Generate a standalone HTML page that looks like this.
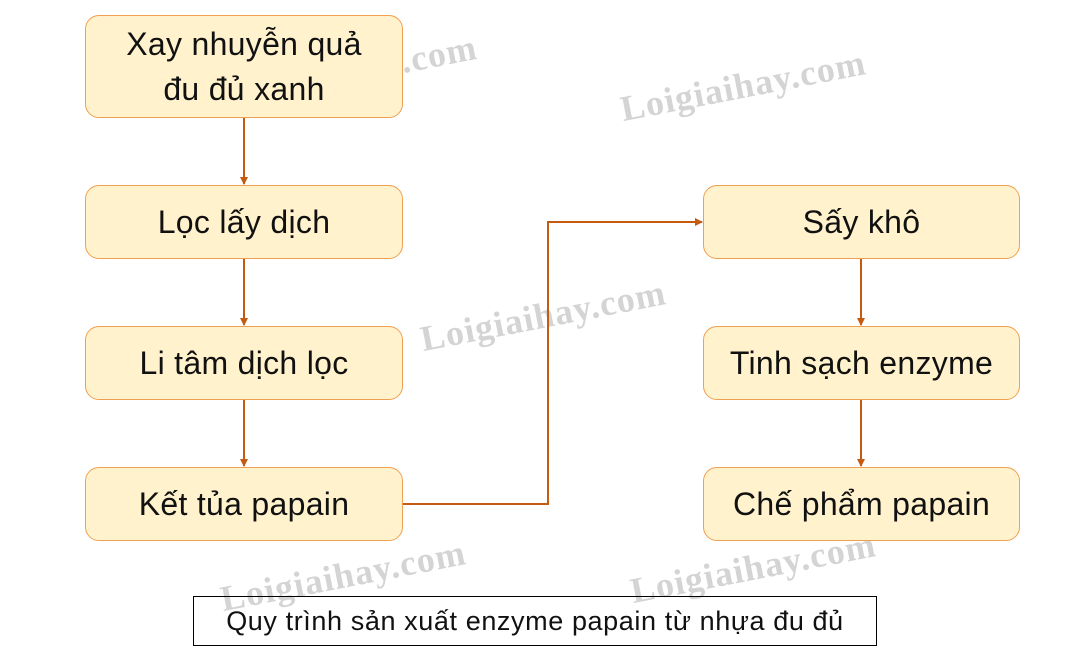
<!DOCTYPE html>
<html><head><meta charset="utf-8"><style>
body{margin:0;width:1086px;height:660px;background:#fff;position:relative;overflow:hidden;font-family:"Liberation Sans",sans-serif}
.b{position:absolute;box-sizing:border-box;background:#fff2cc;border:1.5px solid #f0a050;border-radius:14px;display:flex;align-items:center;justify-content:center;text-align:center;font-size:32px;color:#111;line-height:45px;letter-spacing:0.3px}
.w{position:absolute;font-family:"Liberation Serif",serif;font-weight:bold;font-size:36px;color:#d4d4d4;transform:rotate(-11deg);transform-origin:left bottom;white-space:nowrap;letter-spacing:1px}
.cap{position:absolute;left:193px;top:596px;width:684px;height:50px;box-sizing:border-box;border:1px solid #000;font-size:27px;letter-spacing:0.6px;display:flex;align-items:center;justify-content:center;color:#111}
</style></head><body>
<div class="w" style="left:625px;top:88px">Loigiaihay.com</div>
<div class="w" style="left:425px;top:318px">Loigiaihay.com</div>
<div class="w" style="left:225px;top:578px">Loigiaihay.com</div>
<div class="w" style="left:635px;top:570px">Loigiaihay.com</div>
<div class="w" style="left:405px;top:40px">.com</div>
<svg width="1086" height="660" style="position:absolute;left:0;top:0">
<defs><marker id="a" markerWidth="8" markerHeight="8" refX="7" refY="4" orient="auto" markerUnits="userSpaceOnUse"><path d="M0,0L8,4L0,8z" fill="#c55a11"/></marker></defs>
<g stroke="#c55a11" stroke-width="2" fill="none">
<line x1="244" y1="118" x2="244" y2="184" marker-end="url(#a)"/>
<line x1="244" y1="259" x2="244" y2="325" marker-end="url(#a)"/>
<line x1="244" y1="400" x2="244" y2="466" marker-end="url(#a)"/>
<line x1="861" y1="259" x2="861" y2="325" marker-end="url(#a)"/>
<line x1="861" y1="400" x2="861" y2="466" marker-end="url(#a)"/>
<polyline points="403,504 548,504 548,222 702,222" marker-end="url(#a)"/>
</g></svg>
<div class="b" style="left:85px;top:15px;width:318px;height:103px">Xay nhuyễn quả<br>đu đủ xanh</div>
<div class="b" style="left:85px;top:185px;width:318px;height:74px">Lọc lấy dịch</div>
<div class="b" style="left:85px;top:326px;width:318px;height:74px">Li tâm dịch lọc</div>
<div class="b" style="left:85px;top:467px;width:318px;height:74px">Kết tủa papain</div>
<div class="b" style="left:703px;top:185px;width:317px;height:74px">Sấy khô</div>
<div class="b" style="left:703px;top:326px;width:317px;height:74px">Tinh sạch enzyme</div>
<div class="b" style="left:703px;top:467px;width:317px;height:74px">Chế phẩm papain</div>
<div class="cap">Quy trình sản xuất enzyme papain từ nhựa đu đủ</div>
</body></html>
